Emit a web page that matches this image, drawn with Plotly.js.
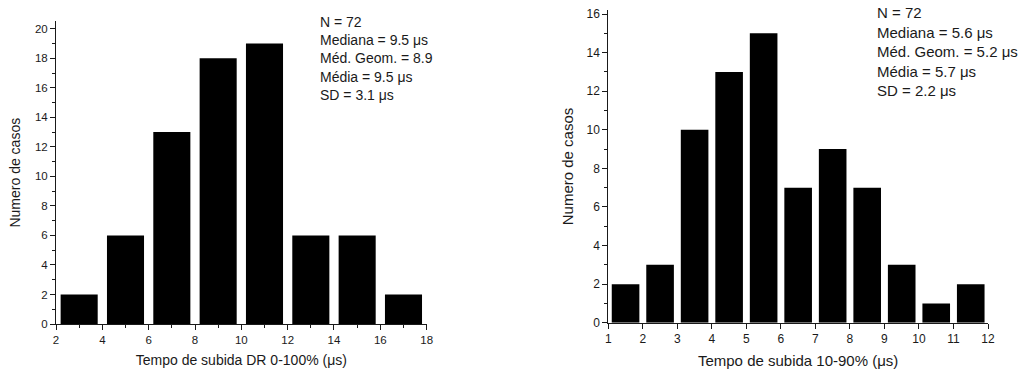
<!DOCTYPE html>
<html>
<head>
<meta charset="utf-8">
<script src="https://cdn.plot.ly/plotly-3.0.1.min.js"></script>
<style>html,body{margin:0;padding:0;background:#fff;}#chart{width:1021px;height:372px;}</style>
</head>
<body>
<div id="chart"></div>
<script>
// Left histogram: Tempo de subida DR 0-100% (µs), bins of width 2
const leftBinCenters = [3, 5, 7, 9, 11, 13, 15, 17];
const leftCounts = [2, 6, 13, 18, 19, 6, 6, 2];
const leftStats = ["N = 72", "Mediana = 9.5 μs", "Méd. Geom. = 8.9", "Média = 9.5 μs", "SD = 3.1 μs"];

// Right histogram: Tempo de subida 10-90% (µs), bins of width 1
const rightBinCenters = [1.5, 2.5, 3.5, 4.5, 5.5, 6.5, 7.5, 8.5, 9.5, 10.5, 11.5];
const rightCounts = [2, 3, 10, 13, 15, 7, 9, 7, 3, 1, 2];
const rightStats = ["N = 72", "Mediana = 5.6 μs", "Méd. Geom. = 5.2 μs", "Média = 5.7 μs", "SD = 2.2 μs"];

const yTitle = "Numero de casos";
const leftXTitle = "Tempo de subida DR 0-100% (μs)";
const rightXTitle = "Tempo de subida 10-90% (μs)";

const FONT = "Liberation Sans, Arial, sans-serif";
const INK = "#1a1a1a";

const traces = [
  {type: "bar", x: leftBinCenters, y: leftCounts, xaxis: "x", yaxis: "y",
   width: leftBinCenters.map(() => 1.6),
   marker: {color: "#000", line: {width: 0}}, showlegend: false, hoverinfo: "x+y"},
  {type: "bar", x: rightBinCenters, y: rightCounts, xaxis: "x2", yaxis: "y2",
   width: rightBinCenters.map(() => 0.8),
   marker: {color: "#000", line: {width: 0}}, showlegend: false, hoverinfo: "x+y"}
];

const axisCommon = {
  showgrid: false, zeroline: false, showline: true, linecolor: INK, linewidth: 1,
  ticks: "outside", ticklen: 5, tickwidth: 1, tickcolor: INK, automargin: false,
  tickfont: {family: FONT, size: 11.5, color: INK}
};

const layout = {
  width: 1021, height: 372,
  paper_bgcolor: "#fff", plot_bgcolor: "#fff",
  margin: {l: 56, r: 33, t: 0, b: 48},
  font: {family: FONT, color: INK},
  showlegend: false,
  xaxis: Object.assign({}, axisCommon, {
    domain: [0, 0.3977], range: [2, 18], tick0: 2, dtick: 2, anchor: "y",
    minor: {dtick: 1, ticks: "outside", ticklen: 3, tickcolor: INK},
    title: {text: leftXTitle, font: {family: FONT, size: 14, color: INK}, standoff: 10}
  }),
  yaxis: Object.assign({}, axisCommon, {
    domain: [0, 0.934], range: [0, 20.5], tick0: 0, dtick: 2, anchor: "x",
    minor: {dtick: 1, ticks: "outside", ticklen: 3, tickcolor: INK},
    title: {text: yTitle, font: {family: FONT, size: 14, color: INK}, standoff: 10}
  }),
  xaxis2: Object.assign({}, axisCommon, {
    domain: [0.5926, 1], range: [1, 12], tick0: 1, dtick: 1, anchor: "y2",
    tickfont: {family: FONT, size: 12, color: INK},
    title: {text: rightXTitle, font: {family: FONT, size: 15, color: INK}, standoff: 10}
  }),
  yaxis2: Object.assign({}, axisCommon, {
    domain: [0.004, 0.9685], range: [0, 16.2], tick0: 0, dtick: 2, anchor: "x2",
    tickfont: {family: FONT, size: 12, color: INK},
    minor: {dtick: 1, ticks: "outside", ticklen: 3, tickcolor: INK},
    title: {text: yTitle, font: {family: FONT, size: 15, color: INK}, standoff: 9}
  }),
  annotations: [
    {xref: "paper", yref: "paper", x: 0.2811, y: 0.962, xanchor: "left", yanchor: "top", align: "left",
     showarrow: false, text: leftStats.join("<br>"), font: {family: FONT, size: 14, color: INK}},
    {xref: "paper", yref: "paper", x: 0.8788, y: 0.995, xanchor: "left", yanchor: "top", align: "left",
     showarrow: false, text: rightStats.join("<br>"), font: {family: FONT, size: 15, color: INK}}
  ]
};

Plotly.newPlot("chart", traces, layout, {displayModeBar: false, staticPlot: true});
</script>
</body>
</html>
